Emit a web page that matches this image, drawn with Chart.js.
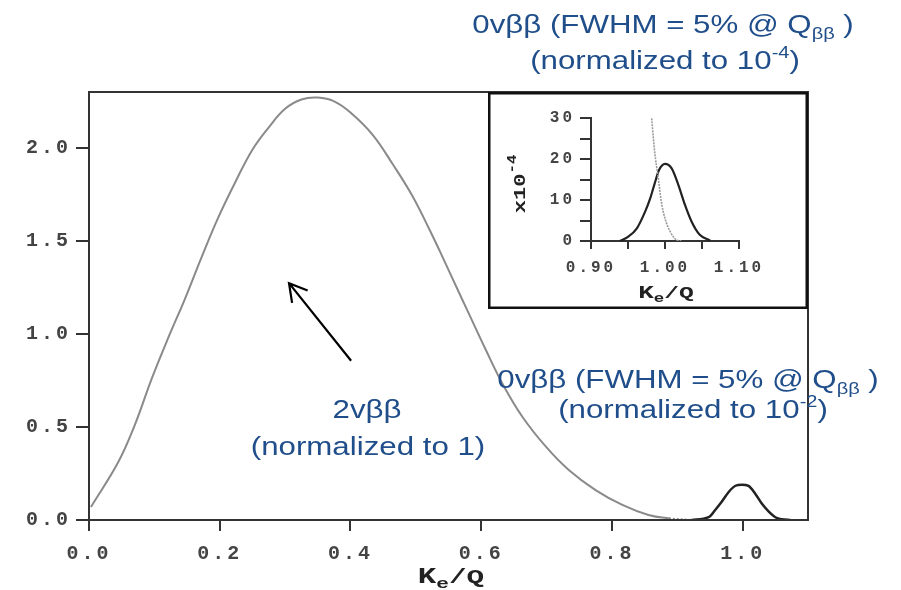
<!DOCTYPE html>
<html>
<head>
<meta charset="utf-8">
<script src="https://cdn.jsdelivr.net/npm/chart.js@4.4.1/dist/chart.umd.min.js"></script>
<style>
  body { margin: 0; background: #fff; }
  #wrap { position: relative; width: 901px; height: 590px; }
  #main { position: absolute; left: 0; top: 0; }
  #inset { position: absolute; left: 488px; top: 92px; background: #fff; }
</style>
</head>
<body>
<div id="wrap">
  <canvas id="main" width="901" height="590"></canvas>
  <canvas id="inset" width="320" height="217"></canvas>
</div>
<script>
// 2vbb summed electron spectrum (normalized to 1)
const twoNuX = [0.003, 0.045, 0.070, 0.096, 0.121, 0.147, 0.172, 0.197, 0.223, 0.25, 0.275, 0.30, 0.325, 0.35, 0.375, 0.40, 0.434, 0.465, 0.495, 0.521, 0.536, 0.571, 0.587, 0.607, 0.633, 0.663, 0.699, 0.734, 0.775, 0.816, 0.856, 0.887, 0.920]
const twoNuY = [0.07, 0.313, 0.51, 0.76, 0.977, 1.19, 1.41, 1.62, 1.81, 1.99, 2.11, 2.21, 2.26, 2.27, 2.25, 2.19, 2.07, 1.91, 1.74, 1.56, 1.45, 1.185, 1.065, 0.915, 0.73, 0.555, 0.394, 0.269, 0.161, 0.081, 0.027, 0.009, 0.0]

// 0vbb peak, FWHM 5% (normalized to 1e-2)
const zeroNuX = [0.922, 0.948, 0.958, 0.968, 0.979, 0.989, 0.999, 1.009, 1.019, 1.029, 1.040, 1.050, 1.060, 1.073]
const zeroNuY = [0, 0.015, 0.054, 0.098, 0.152, 0.184, 0.19, 0.183, 0.143, 0.09, 0.045, 0.015, 0.004, 0]

// inset, units of 1e-4
const insetPeakX = [0.939, 0.950, 0.962, 0.973, 0.980, 0.986, 0.992, 1.000, 1.009, 1.018, 1.027, 1.036, 1.047, 1.061]
const insetPeakY = [0, 1.0, 3.1, 7.1, 10.4, 14.0, 17.3, 18.8, 17.7, 13.7, 8.8, 4.7, 1.5, 0.1]
const insetTailX = [0.982, 0.986, 0.991, 0.995, 1.000, 1.007, 1.016, 1.022]
const insetTailY = [29.9, 21.8, 15.3, 9.6, 5.5, 2.3, 0.2, 0]

// ticks
const mainXTicks = [0, 0.2, 0.4, 0.6, 0.8, 1.0]
const mainYTicks = [0, 0.5, 1.0, 1.5, 2.0]
const insetXTicks = [0.90, 0.95, 1.00, 1.05, 1.10]
const insetXLabels = ['0.90', '', '1.00', '', '1.10']
const insetYTicks = [0, 5, 10, 15, 20, 25, 30]
const insetYLabels = ['0', '', '10', '', '20', '', '30']

const blue = '#1f4e8a'
const axisCol = '#333'
const monoFont = 'Liberation Mono'

function pts(xs, ys) { return xs.map((x, i) => ({x: x, y: ys[i]})) }

// text made of pieces: [text, size, dy]; sx stretches it sideways
function rich(ctx, parts, cx, y, family, weight, color, sx) {
  ctx.save()
  ctx.letterSpacing = '0px'
  ctx.fillStyle = color
  ctx.textAlign = 'left'
  ctx.textBaseline = 'alphabetic'
  let w = 0
  parts.forEach(p => { ctx.font = weight + ' ' + p[1] + 'px "' + family + '"'; w += ctx.measureText(p[0]).width })
  ctx.translate(cx, y)
  ctx.scale(sx || 1, 1)
  let x = -w / 2
  parts.forEach(p => {
    ctx.font = weight + ' ' + p[1] + 'px "' + family + '"'
    ctx.fillText(p[0], x, p[2])
    x += ctx.measureText(p[0]).width
  })
  ctx.restore()
}

const spacing = {
  id: 'spacing',
  beforeDraw(chart) { chart.ctx.letterSpacing = '3px' },
  afterDraw(chart) { chart.ctx.letterSpacing = '0px' }
}

const frame = {
  id: 'frame',
  afterDraw(chart) {
    const a = chart.chartArea, ctx = chart.ctx
    ctx.save()
    ctx.strokeStyle = axisCol
    ctx.lineWidth = 2
    ctx.strokeRect(a.left, a.top, a.right - a.left, a.bottom - a.top)
    ctx.restore()
  }
}

const notes = {
  id: 'notes',
  afterDraw(chart) {
    const ctx = chart.ctx, xs = chart.scales.x, ys = chart.scales.y
    // axis title
    rich(ctx, [['K', 22, 0], ['e', 15, 5], ['/Q', 21, 0]], 451, 583, monoFont, 'bold', '#222', 1.4)

    const f = 'Liberation Sans', st = 1.25
    rich(ctx, [['0vββ (FWHM = 5% @ Q', 25, 0], ['ββ', 16, 6], [' )', 25, 0]], 663, 33, f, 'normal', blue, st)
    rich(ctx, [['(normalized to 10', 25, 0], ['-4', 16, -11], [')', 25, 0]], 665, 69, f, 'normal', blue, st)
    rich(ctx, [['0vββ (FWHM = 5% @ Q', 25, 0], ['ββ', 16, 6], [' )', 25, 0]], 688, 388, f, 'normal', blue, st)
    rich(ctx, [['(normalized to 10', 25, 0], ['-2', 16, -11], [')', 25, 0]], 693, 418, f, 'normal', blue, st)
    rich(ctx, [['2vββ', 25, 0]], 367, 418, f, 'normal', blue, st)
    rich(ctx, [['(normalized to 1)', 25, 0]], 368, 455, f, 'normal', blue, st)

    // arrow towards the 2v curve
    const x0 = xs.getPixelForValue(0.401), y0 = ys.getPixelForValue(0.856)
    const x1 = xs.getPixelForValue(0.306), y1 = ys.getPixelForValue(1.273)
    const ang = Math.atan2(y0 - y1, x0 - x1)
    ctx.save()
    ctx.strokeStyle = '#000'
    ctx.lineWidth = 2.2
    ctx.beginPath()
    ctx.moveTo(x0, y0); ctx.lineTo(x1, y1)
    ctx.moveTo(x1 + 20 * Math.cos(ang + 0.52), y1 + 20 * Math.sin(ang + 0.52))
    ctx.lineTo(x1, y1)
    ctx.lineTo(x1 + 20 * Math.cos(ang - 0.52), y1 + 20 * Math.sin(ang - 0.52))
    ctx.stroke()
    ctx.restore()
  }
}

const tickFont = {family: monoFont, size: 20, weight: 'bold'}

new Chart(document.getElementById('main'), {
  type: 'line',
  data: {
    datasets: [
      {
        label: '2vββ',
        data: pts(twoNuX, twoNuY),
        borderColor: '#8a8a8a',
        borderWidth: 2,
        pointRadius: 0,
        tension: 0.4,
        segment: { borderDash: c => c.p0.parsed.x >= 0.887 ? [2, 2] : undefined }
      },
      {
        label: '0vββ',
        data: pts(zeroNuX, zeroNuY),
        borderColor: '#222',
        borderWidth: 2.5,
        pointRadius: 0,
        cubicInterpolationMode: 'monotone'
      }
    ]
  },
  options: {
    responsive: false,
    animation: false,
    layout: { padding: {left: 0, right: 93, top: 92, bottom: 0} },
    plugins: { legend: {display: false}, tooltip: {enabled: false} },
    scales: {
      x: {
        type: 'linear', min: 0, max: 1.1,
        afterBuildTicks: s => { s.ticks = mainXTicks.map(v => ({value: v})) },
        afterFit: s => { s.height = 70 },
        grid: {drawOnChartArea: false, tickLength: 11, color: axisCol, lineWidth: 2},
        border: {color: axisCol, width: 2},
        ticks: {font: tickFont, color: '#444', padding: 11, maxRotation: 0, callback: v => v.toFixed(1)}
      },
      y: {
        min: 0, max: 2.3,
        afterBuildTicks: s => { s.ticks = mainYTicks.map(v => ({value: v})) },
        afterFit: s => { s.width = 89 },
        grid: {drawOnChartArea: false, tickLength: 13, color: axisCol, lineWidth: 2},
        border: {color: axisCol, width: 2},
        ticks: {font: tickFont, color: '#444', padding: 5, callback: v => v.toFixed(1)}
      }
    }
  },
  plugins: [spacing, frame, notes]
})

// ---- inset ----
const insetNotes = {
  id: 'insetNotes',
  afterDraw(chart) {
    const ctx = chart.ctx, w = chart.width, h = chart.height
    ctx.save()
    ctx.strokeStyle = '#111'
    ctx.lineWidth = 2.5
    ctx.strokeRect(1.25, 1.25, w - 2.5, h - 2.5)
    ctx.restore()
    rich(ctx, [['K', 18, 0], ['e', 12, 4], ['/Q', 17, 0]], 178, 206, monoFont, 'bold', '#222', 1.45)
    ctx.save()
    ctx.translate(37, 92)
    ctx.rotate(-Math.PI / 2)
    rich(ctx, [['x10', 17, 0], ['-4', 12, -9]], 0, 0, monoFont, 'bold', '#222', 1.3)
    ctx.restore()
  }
}

const insetTick = {family: monoFont, size: 16, weight: 'bold'}

new Chart(document.getElementById('inset'), {
  type: 'line',
  data: {
    datasets: [
      {
        label: '2vββ tail',
        data: pts(insetTailX, insetTailY),
        borderColor: '#9a9a9a',
        borderWidth: 1.6,
        borderDash: [2, 1],
        pointRadius: 0,
        cubicInterpolationMode: 'monotone'
      },
      {
        label: '0vββ',
        data: pts(insetPeakX, insetPeakY),
        borderColor: '#222',
        borderWidth: 2.2,
        pointRadius: 0,
        cubicInterpolationMode: 'monotone'
      }
    ]
  },
  options: {
    responsive: false,
    animation: false,
    layout: { padding: {left: 0, right: 69, top: 26, bottom: 0} },
    plugins: { legend: {display: false}, tooltip: {enabled: false} },
    scales: {
      x: {
        type: 'linear', min: 0.9, max: 1.1,
        afterBuildTicks: s => { s.ticks = insetXTicks.map(v => ({value: v})) },
        afterFit: s => { s.height = 68 },
        grid: {drawOnChartArea: false, tickLength: 8, color: axisCol, lineWidth: 2},
        border: {color: axisCol, width: 2},
        ticks: {font: insetTick, color: '#444', padding: 9, maxRotation: 0, autoSkip: false,
                callback: (v, i) => insetXLabels[i]}
      },
      y: {
        min: 0, max: 30,
        afterBuildTicks: s => { s.ticks = insetYTicks.map(v => ({value: v})) },
        afterFit: s => { s.width = 103 },
        grid: {drawOnChartArea: false, tickLength: 11, color: axisCol, lineWidth: 2},
        border: {color: axisCol, width: 2},
        ticks: {font: insetTick, color: '#444', padding: 5, autoSkip: false,
                callback: (v, i) => insetYLabels[i]}
      }
    }
  },
  plugins: [spacing, insetNotes]
})
</script>
</body>
</html>
